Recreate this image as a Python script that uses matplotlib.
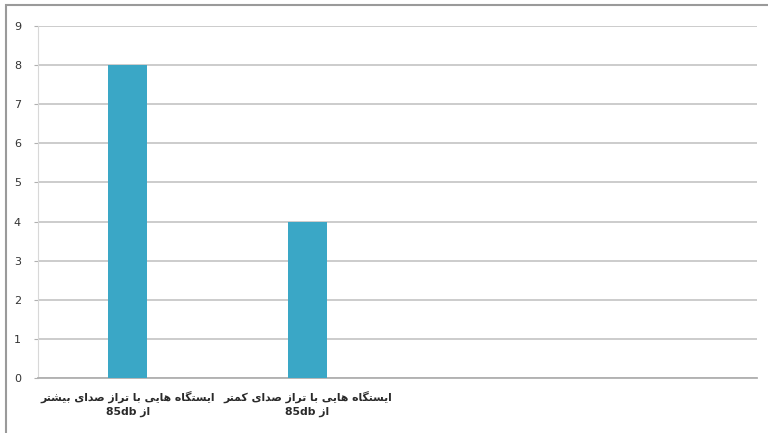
import matplotlib.pyplot as plt
from matplotlib.patches import Rectangle

# data
categories = ["ایستگاه هایی با تراز صدای بیشتر", "ایستگاه هایی با تراز صدای کمتر"]
values = [8, 4]
slots = 4  # the chart reserves room for four categories
yticks = list(range(0, 10))

# minimal Persian shaping (matplotlib has no bidi/shaping)
FORMS = {
    'ا': ('\uFE8D', '\uFE8E', None, None),
    'د': ('\uFEA9', '\uFEAA', None, None),
    'ر': ('\uFEAD', '\uFEAE', None, None),
    'ز': ('\uFEAF', '\uFEB0', None, None),
    'ب': ('\uFE8F', '\uFE90', '\uFE91', '\uFE92'),
    'ت': ('\uFE95', '\uFE96', '\uFE97', '\uFE98'),
    'س': ('\uFEB1', '\uFEB2', '\uFEB3', '\uFEB4'),
    'ش': ('\uFEB5', '\uFEB6', '\uFEB7', '\uFEB8'),
    'ص': ('\uFEB9', '\uFEBA', '\uFEBB', '\uFEBC'),
    'م': ('\uFEE1', '\uFEE2', '\uFEE3', '\uFEE4'),
    'ه': ('\uFEE9', '\uFEEA', '\uFEEB', '\uFEEC'),
    'ک': ('\uFB8E', '\uFB8F', '\uFB90', '\uFB91'),
    'گ': ('\uFB92', '\uFB93', '\uFB94', '\uFB95'),
    'ی': ('\uFBFC', '\uFBFD', '\uFBFE', '\uFBFF'),
}


def shape(text):
    out = []
    for i, ch in enumerate(text):
        if ch not in FORMS:
            out.append(ch)
            continue
        prev = text[i - 1] if i > 0 else ''
        nxt = text[i + 1] if i + 1 < len(text) else ''
        join_prev = prev in FORMS and FORMS[prev][2] is not None
        join_next = FORMS[ch][2] is not None and nxt in FORMS
        iso, fin, ini, med = FORMS[ch]
        if join_prev and join_next:
            out.append(med)
        elif join_prev:
            out.append(fin)
        elif join_next:
            out.append(ini)
        else:
            out.append(iso)
    return ''.join(out)[::-1]


labels = [shape(c) + "\n85db " + shape("از") for c in categories]

fig = plt.figure(figsize=(7.68, 4.33), dpi=100)
ax = fig.add_axes([0.049, 0.127, 0.937, 0.813])

x = list(range(len(values)))
ax.bar(x, values, width=0.22, color='#3aa7c6', zorder=3)

ax.set_xlim(-0.5, slots - 0.5)
ax.set_ylim(0, 9)
ax.set_yticks(yticks)
ax.set_yticklabels([str(t) for t in yticks], fontsize=8, color='#333333')
ax.set_xticks(x)
ax.set_xticklabels(labels, fontsize=7.8, fontweight='bold', color='#2a2a2a',
                   family=['DejaVu Sans'], linespacing=1.5)
ax.tick_params(axis='x', length=0, pad=9)
ax.tick_params(axis='y', length=3, color='#b0b0b0', pad=9)

ax.grid(axis='y', color='#c8c8c8', linewidth=1.3, zorder=0)
for s in ['top', 'right']:
    ax.spines[s].set_visible(False)
ax.spines['left'].set_color('#d8d8d8')
ax.spines['bottom'].set_color('#b0b0b0')
ax.spines['bottom'].set_linewidth(1.3)

# picture frame
fig.patches.append(Rectangle((0.008, -0.01), 1.0, 0.998, transform=fig.transFigure,
                             fill=False, edgecolor='#9a9a9a', linewidth=1.5))

fig.savefig('out.png', dpi=100)
